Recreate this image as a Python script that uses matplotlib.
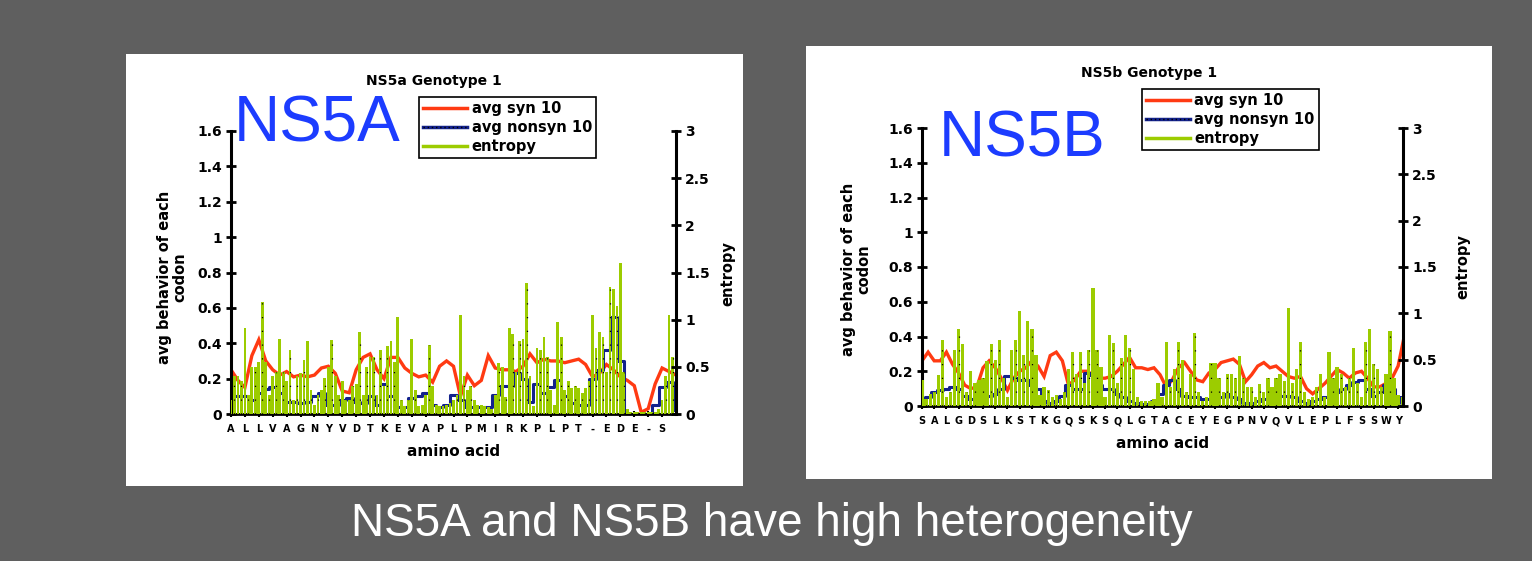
import matplotlib
matplotlib.use('Agg')
import matplotlib.pyplot as plt
import numpy as np
from matplotlib.lines import Line2D
from matplotlib.legend_handler import HandlerTuple
from matplotlib.patches import Rectangle

plt.rcParams['font.family'] = 'DejaVu Sans'
plt.rcParams['font.weight'] = 'bold'

# amino acid labels under each x axis
ns5a_labels = list('ALLVAGNYVDTKEVAPLPMIRKPLPT-EDE-S')
ns5b_labels = list('SALGDSLKSTKGQSKSQLGTACEYEGPNVQVLEPLFSSWY')

# entropy (right axis), 4 values per label for NS5A
ns5a_entropy = [
    0.15, 0.40, 0.40, 0.35, 0.91, 0.20, 0.50, 0.50,
    0.55, 1.19, 0.55, 0.20, 0.40, 0.45, 0.80, 0.45,
    0.35, 0.68, 0.15, 0.40, 0.43, 0.57, 0.77, 0.25,
    0.10, 0.20, 0.25, 0.38, 0.50, 0.78, 0.40, 0.20,
    0.35, 0.15, 0.15, 0.30, 0.32, 0.87, 0.20, 0.50,
    0.60, 0.60, 0.20, 0.68, 0.30, 0.72, 0.77, 0.55,
    1.03, 0.15, 0.08, 0.15, 0.79, 0.25, 0.08, 0.10,
    0.20, 0.73, 0.30, 0.10, 0.08, 0.08, 0.10, 0.12,
    0.15, 0.20, 1.05, 0.40, 0.25, 0.30, 0.15, 0.10,
    0.10, 0.08, 0.07, 0.05, 0.20, 0.54, 0.50, 0.18,
    0.91, 0.85, 0.45, 0.77, 0.80, 1.39, 0.40, 0.08,
    0.70, 0.68, 0.82, 0.60, 0.25, 0.10, 0.98, 0.82,
    0.25, 0.35, 0.28, 0.30, 0.28, 0.22, 0.28, 0.35,
    1.05, 0.70, 0.87, 0.82, 0.45, 1.35, 1.33, 1.15,
    1.60, 0.45, 0.05, 0.02, 0.02, 0.02, 0.02, 0.02,
    0.02, 0.02, 0.02, 0.05, 0.15, 0.40, 1.05, 0.60,
    0.10,
]
# avg syn / nonsyn (left axis), 2 values per label
ns5a_syn = [
    0.25, 0.19, 0.15, 0.33, 0.42, 0.30, 0.25, 0.22, 0.24, 0.21,
    0.22, 0.21, 0.22, 0.26, 0.27, 0.23, 0.13, 0.12, 0.25, 0.32,
    0.34, 0.25, 0.20, 0.32, 0.32, 0.26, 0.23, 0.21, 0.22, 0.18,
    0.27, 0.30, 0.27, 0.10, 0.22, 0.16, 0.19, 0.33, 0.26, 0.25,
    0.25, 0.24, 0.27, 0.34, 0.29, 0.31, 0.30, 0.30, 0.29, 0.30,
    0.31, 0.28, 0.21, 0.23, 0.28, 0.25, 0.21, 0.19, 0.16, 0.01,
    0.03, 0.17, 0.26, 0.24, 0.22,
]
ns5a_nonsyn = [
    0.07, 0.10, 0.10, 0.08, 0.12, 0.14, 0.15, 0.12, 0.07, 0.07,
    0.06, 0.07, 0.10, 0.12, 0.05, 0.05, 0.08, 0.09, 0.07, 0.06,
    0.10, 0.05, 0.17, 0.10, 0.04, 0.04, 0.09, 0.10, 0.12, 0.05,
    0.04, 0.05, 0.11, 0.08, 0.04, 0.04, 0.04, 0.04, 0.11, 0.16,
    0.16, 0.23, 0.20, 0.07, 0.17, 0.12, 0.15, 0.19, 0.10, 0.06,
    0.05, 0.05, 0.20, 0.25, 0.36, 0.55, 0.30, 0.00, 0.00, 0.00,
    0.00, 0.05, 0.15, 0.18, 0.02,
]

# NS5B: entropy 3 values per label
ns5b_entropy = [
    0.28, 0.08, 0.13, 0.15, 0.33, 0.71, 0.10, 0.15, 0.60,
    0.83, 0.67, 0.15, 0.38, 0.25, 0.28, 0.30, 0.49, 0.67,
    0.50, 0.71, 0.30, 0.10, 0.60, 0.71, 1.02, 0.55, 0.92,
    0.83, 0.55, 0.12, 0.20, 0.17, 0.10, 0.12, 0.08, 0.15,
    0.40, 0.58, 0.35, 0.58, 0.25, 0.60, 1.27, 0.60, 0.42,
    0.10, 0.77, 0.68, 0.25, 0.52, 0.77, 0.63, 0.40, 0.10,
    0.05, 0.05, 0.05, 0.08, 0.25, 0.10, 0.69, 0.20, 0.40,
    0.69, 0.50, 0.15, 0.35, 0.79, 0.15, 0.05, 0.10, 0.46,
    0.46, 0.30, 0.15, 0.35, 0.35, 0.30, 0.54, 0.30, 0.20,
    0.20, 0.10, 0.24, 0.15, 0.30, 0.20, 0.30, 0.35, 0.27,
    1.06, 0.25, 0.40, 0.69, 0.15, 0.08, 0.10, 0.20, 0.35,
    0.10, 0.58, 0.30, 0.42, 0.35, 0.20, 0.30, 0.63, 0.25,
    0.10, 0.69, 0.83, 0.45, 0.40, 0.20, 0.35, 0.81, 0.30,
    0.12, 0.10,
]
ns5b_syn = [
    0.26, 0.31, 0.26, 0.26, 0.31, 0.24, 0.19, 0.12, 0.10, 0.11,
    0.22, 0.26, 0.22, 0.16, 0.09, 0.16, 0.20, 0.22, 0.26, 0.23,
    0.17, 0.29, 0.31, 0.26, 0.12, 0.15, 0.20, 0.20, 0.18, 0.16,
    0.16, 0.17, 0.20, 0.24, 0.28, 0.22, 0.22, 0.21, 0.22, 0.18,
    0.11, 0.15, 0.22, 0.25, 0.20, 0.15, 0.14, 0.19, 0.21, 0.25,
    0.26, 0.27, 0.24, 0.14, 0.18, 0.23, 0.25, 0.22, 0.23, 0.20,
    0.17, 0.16, 0.17, 0.10, 0.07, 0.10, 0.13, 0.17, 0.21, 0.19,
    0.16, 0.19, 0.20, 0.16, 0.11, 0.11, 0.13, 0.16, 0.23, 0.40,
]
ns5b_nonsyn = [
    0.03, 0.05, 0.08, 0.09, 0.10, 0.11, 0.10, 0.06, 0.04, 0.05,
    0.05, 0.06, 0.07, 0.10, 0.17, 0.16, 0.15, 0.15, 0.12, 0.10,
    0.03, 0.02, 0.03, 0.06, 0.12, 0.10, 0.10, 0.19, 0.18, 0.12,
    0.10, 0.10, 0.07, 0.05, 0.03, 0.02, 0.01, 0.01, 0.03, 0.07,
    0.12, 0.15, 0.10, 0.06, 0.05, 0.05, 0.04, 0.04, 0.04, 0.05,
    0.07, 0.05, 0.04, 0.02, 0.02, 0.03, 0.04, 0.05, 0.05, 0.06,
    0.06, 0.05, 0.03, 0.02, 0.03, 0.04, 0.05, 0.06, 0.08, 0.10,
    0.12, 0.14, 0.15, 0.10, 0.06, 0.08, 0.12, 0.10, 0.05, 0.02,
]

left_ticks = [0, 0.2, 0.4, 0.6, 0.8, 1, 1.2, 1.4, 1.6]
right_ticks = [0, 0.5, 1, 1.5, 2, 2.5, 3]

RED = '#ff3a12'
BLUE = '#13228c'
GREEN = '#9ccc00'
BIG_BLUE = '#1c3cff'

W, H = 1532, 561


def fx(px):
    return px / W


def fy(py):
    return 1 - py / H


fig = plt.figure(figsize=(W / 100, H / 100), dpi=100, facecolor='#5f5f5f')


def draw_panel(labels, entropy, ent_step, syn, nonsyn, lay):
    # white card behind the chart
    x0, y0, x1, y1 = lay['card']
    fig.add_artist(Rectangle((fx(x0), fy(y1)), (x1 - x0) / W, (y1 - y0) / H,
                             transform=fig.transFigure, facecolor='white',
                             edgecolor='none', zorder=-1))

    l, t, r, b = lay['axes']
    ax = fig.add_axes([fx(l), fy(b), (r - l) / W, (b - t) / H])
    ax.set_facecolor('none')
    ax2 = ax.twinx()

    xs = np.arange(len(syn)) * 0.5
    xe = np.arange(len(entropy)) * ent_step
    ent = np.array(entropy)
    ax.plot(xs, syn, color=RED, lw=2.4, solid_joinstyle='miter')
    ax.plot(xs, nonsyn, color=BLUE, lw=2.2, drawstyle='steps-mid')
    # entropy spikes drawn as narrow columns with sparse black dots
    ax2.bar(xe, ent, width=ent_step * 0.8, color=GREEN, linewidth=0)
    ax2.vlines(xe[1::2], 0, ent[1::2], colors='black', lw=0.9,
               linestyles=(0, (1, 10)))

    ax.set_xlim(0, lay['xmax'])
    ax.set_ylim(0, 1.6)
    ax2.set_ylim(0, 3)

    ax.set_xticks(range(len(labels)))
    ax.set_xticklabels(labels, fontsize=7, fontweight='bold')
    ax.set_yticks(left_ticks)
    ax.set_yticklabels([f'{v:g}' for v in left_ticks], fontsize=10)
    ax2.set_yticks(right_ticks)
    ax2.set_yticklabels([f'{v:g}' for v in right_ticks], fontsize=10)

    ax.tick_params(axis='x', direction='inout', length=5, width=1.5, pad=5)
    ax.tick_params(axis='y', direction='inout', length=7, width=2, pad=3)
    ax2.tick_params(axis='y', direction='inout', length=7, width=2, pad=3)

    for s in ['top', 'right']:
        ax.spines[s].set_visible(False)
    for s in ['top', 'left', 'bottom']:
        ax2.spines[s].set_visible(False)
    ax.spines['left'].set_linewidth(2.2)
    ax.spines['bottom'].set_linewidth(2)
    ax2.spines['right'].set_linewidth(2.2)

    # texts
    fig.text(fx(lay['title'][0]), fy(lay['title'][1]), lay['title_text'],
             ha='center', va='center', fontsize=10)
    fig.text(fx(lay['ylab'][0]), fy(lay['ylab'][1]), 'avg behavior of each\ncodon',
             rotation=90, ha='center', va='center', fontsize=10.5,
             multialignment='center', linespacing=1.0)
    fig.text(fx(lay['elab'][0]), fy(lay['elab'][1]), 'entropy',
             rotation=90, ha='center', va='center', fontsize=10.5)
    fig.text(fx(lay['xlab'][0]), fy(lay['xlab'][1]), 'amino acid',
             ha='center', va='center', fontsize=11)
    fig.text(fx(lay['big'][0]), fy(lay['big'][1]), lay['big_text'],
             ha='left', va='baseline', fontsize=46, fontweight='normal',
             family='Liberation Sans', color=BIG_BLUE)

    # legend
    h_syn = Line2D([], [], color=RED, lw=2.5)
    h_non = Line2D([], [], color=BLUE, lw=2.5)
    h_dot = Line2D([], [], color='black', lw=1, linestyle=(0, (1, 2)))
    h_ent = Line2D([], [], color=GREEN, lw=2.5)
    leg = fig.legend([h_syn, (h_non, h_dot), h_ent],
                     ['avg syn 10', 'avg nonsyn 10', 'entropy'],
                     handler_map={tuple: HandlerTuple(ndivide=1, pad=0)},
                     loc='upper left',
                     bbox_to_anchor=(fx(lay['legend'][0]), fy(lay['legend'][1])),
                     frameon=True, fancybox=False, edgecolor='black', framealpha=1,
                     borderaxespad=0, prop={'weight': 'bold', 'size': 10.5},
                     handlelength=3.0, handletextpad=0.3, labelspacing=0.25,
                     borderpad=0.3)
    leg.get_frame().set_linewidth(1.2)
    return ax


ns5a_layout = {
    'card': (126, 54, 743, 486),
    'axes': (231, 131, 676, 414),
    'xmax': 32,
    'title': (434, 81), 'title_text': 'NS5a Genotype 1',
    'ylab': (172, 277), 'elab': (728, 274), 'xlab': (454, 451),
    'big': (234, 141), 'big_text': 'NS5A',
    'legend': (419, 97),
}
ns5b_layout = {
    'card': (806, 46, 1492, 479),
    'axes': (922, 128, 1403, 406),
    'xmax': 39.4,
    'title': (1149, 73), 'title_text': 'NS5b Genotype 1',
    'ylab': (856, 269), 'elab': (1463, 267), 'xlab': (1163, 444),
    'big': (939, 157), 'big_text': 'NS5B',
    'legend': (1142, 89),
}

draw_panel(ns5a_labels, ns5a_entropy, 0.25, ns5a_syn, ns5a_nonsyn, ns5a_layout)
draw_panel(ns5b_labels, ns5b_entropy, 1 / 3, ns5b_syn, ns5b_nonsyn, ns5b_layout)

# caption under the two charts
fig.text(fx(772), fy(524), 'NS5A and NS5B have high heterogeneity',
         ha='center', va='center', fontsize=33, fontweight='normal',
         family='Liberation Sans', color='white')

fig.savefig('out.png', dpi=100, facecolor=fig.get_facecolor())
